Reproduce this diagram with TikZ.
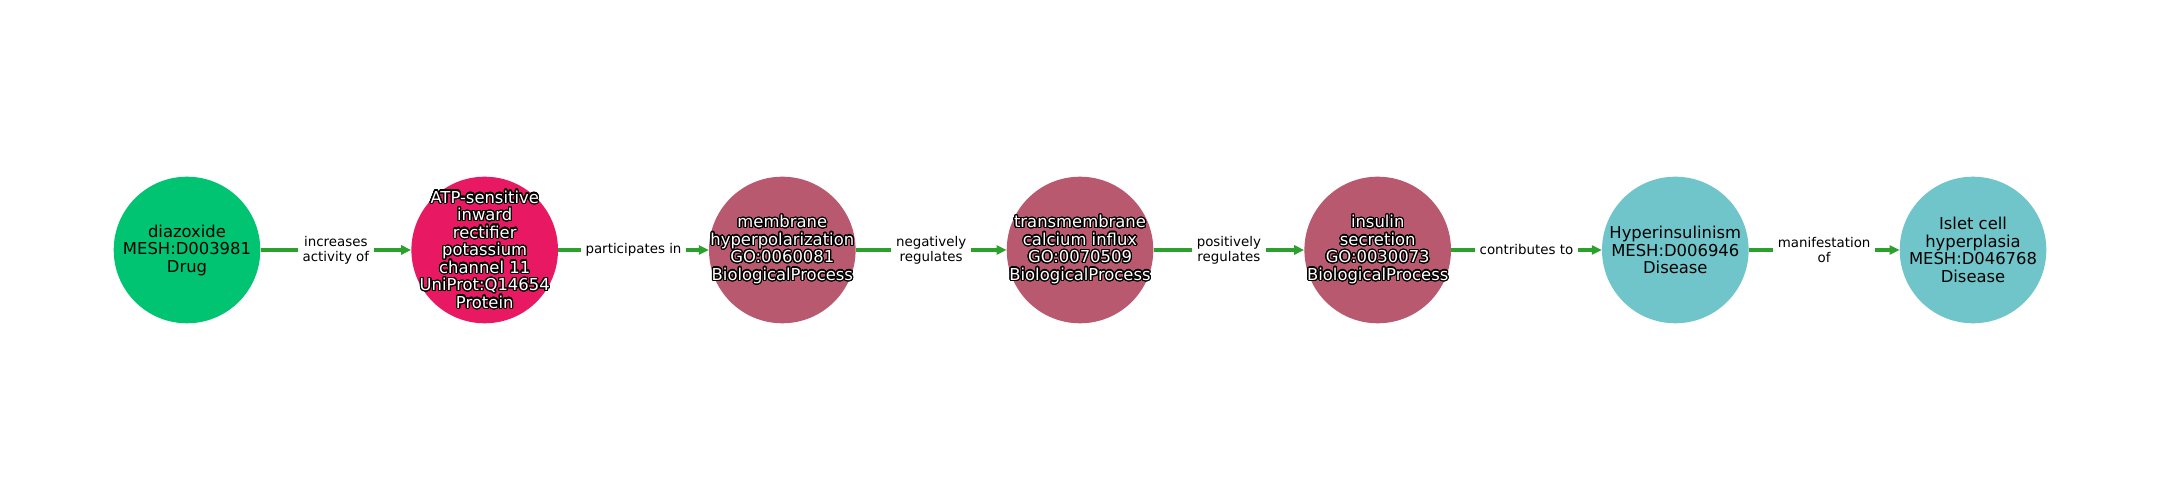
\documentclass[tikz,border=0pt]{standalone}
\usepackage{fontspec}
\setmainfont{DejaVu Sans}
\usepackage{contour}
\contourlength{1.2pt}
\contournumber{24}
\usetikzlibrary{arrows.meta}
\newcommand{\wl}[1]{\contour{black}{#1}}
\definecolor{drugcol}{RGB}{0,196,113}
\definecolor{protcol}{RGB}{232,25,98}
\definecolor{proccol}{RGB}{184,89,111}
\definecolor{discol}{RGB}{112,197,202}
\definecolor{relcol}{RGB}{44,160,44}
\tikzset{
	ent/.style={circle, minimum size=146.6pt, inner sep=0pt},
	enttxt/.style={align=center, inner sep=0pt, font=\fontsize{16.4}{17.5}\selectfont},
	drug/.style={ent, fill=drugcol},
	prot/.style={ent, fill=protcol},
	proc/.style={ent, fill=proccol},
	dis/.style={ent, fill=discol},
	rel/.style={draw=relcol, line width=4.2pt, -{Triangle[length=10pt,width=9pt]}},
	rellab/.style={midway, fill=white, text=black, inner xsep=5pt, inner ysep=1pt, align=center, font=\fontsize{13.4}{15}\selectfont}
}

\begin{document}
\begin{tikzpicture}[x=1pt, y=1pt]
			%%%%% START %%%%%
			
			\fill[white] (0, 0) rectangle (2160, 500);
			\useasboundingbox (0, 0) rectangle (2160, 500);
			
			\node[drug, label={[enttxt]center:{diazoxide\\MESH:D003981\\Drug}}] (diazoxide) at (187, 250) {};
			\node[prot, label={[enttxt, text=white]center:{\wl{ATP-sensitive}\\\wl{inward}\\\wl{rectifier}\\\wl{potassium}\\\wl{channel 11}\\\wl{UniProt:Q14654}\\\wl{Protein}}}] (kcnj11) at (484.7, 250) {};
			\node[proc, label={[enttxt, text=white]center:{\wl{membrane}\\\wl{hyperpolarization}\\\wl{GO:0060081}\\\wl{BiologicalProcess}}}] (hyperpol) at (782.3, 250) {};
			\node[proc, label={[enttxt, text=white]center:{\wl{transmembrane}\\\wl{calcium influx}\\\wl{GO:0070509}\\\wl{BiologicalProcess}}}] (cainflux) at (1080, 250) {};
			\node[proc, label={[enttxt, text=white]center:{\wl{insulin}\\\wl{secretion}\\\wl{GO:0030073}\\\wl{BiologicalProcess}}}] (insulin) at (1377.7, 250) {};
			\node[dis, label={[enttxt]center:{Hyperinsulinism\\MESH:D006946\\Disease}}] (hyperins) at (1675.3, 250) {};
			\node[dis, label={[enttxt]center:{Islet cell\\hyperplasia\\MESH:D046768\\Disease}}] (islet) at (1973, 250) {};
			
			\draw[rel] (diazoxide) -- (kcnj11) node[rellab] {increases\\activity of};
			\draw[rel] (kcnj11) -- (hyperpol) node[rellab] {participates in};
			\draw[rel] (hyperpol) -- (cainflux) node[rellab] {negatively\\regulates};
			\draw[rel] (cainflux) -- (insulin) node[rellab] {positively\\regulates};
			\draw[rel] (insulin) -- (hyperins) node[rellab] {contributes to};
			\draw[rel] (hyperins) -- (islet) node[rellab] {manifestation\\of};
			
			%%%%% END %%%%%
\end{tikzpicture}
\end{document}
